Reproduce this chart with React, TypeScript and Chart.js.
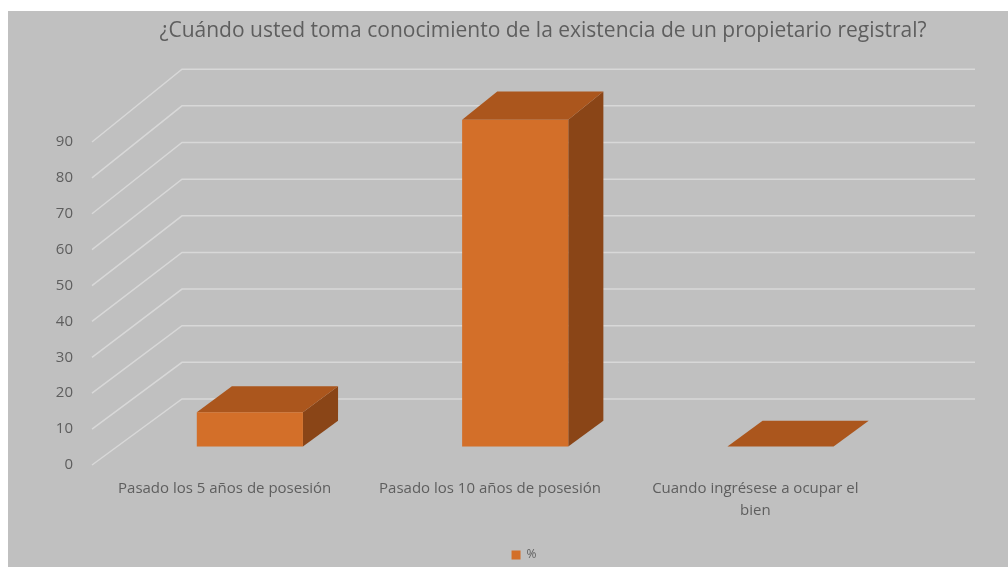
import React, { useEffect, useRef } from 'react';
import { Chart, registerables } from 'chart.js';

Chart.register(...registerables);

const titleText = '¿Cuándo usted toma conocimiento de la existencia de un propietario registral?';
const categories = [
  ['Pasado los 5 años de posesión'],
  ['Pasado los 10 años de posesión'],
  ['Cuando ingrésese a ocupar el', 'bien'],
];
const seriesLabel = '%';
const values = [9.5, 90.5, 0];
const yTickValues = [0, 10, 20, 30, 40, 50, 60, 70, 80, 90];

const BG = '#c0c0c0';
const GRID = '#d8d8d8';
const TEXT = '#5e5e5e';
const FRONT = '#d36f29';
const TOP = '#ab561d';
const SIDE = '#8a4517';

const DX = 90;
const DY = 66;
const PERSP = 0.021;
const D_FRONT = 0.28;
const D_BACK = 0.67;

const TITLE_CX = 535;
const LEGEND_CX = 516;
const LEGEND_DY = 4;

const proj = (y: any, v: number, d: number) => {
  const p0 = y.getPixelForValue(0);
  const pv = y.getPixelForValue(v);
  return p0 - d * DY + (pv - p0) * (1 + PERSP * d);
};

const bgPlugin = {
  id: 'bg',
  beforeDraw(chart: any) {
    const { ctx, width, height } = chart;
    ctx.save();
    ctx.fillStyle = BG;
    ctx.fillRect(0, 0, width, height);
    ctx.restore();
  },
};

const shiftPlugin = {
  id: 'shiftBoxes',
  afterLayout(chart: any) {
    const shift = (box: any, cx: number) => {
      if (!box) return;
      const dx = cx - (box.left + box.right) / 2;
      box.left += dx;
      box.right += dx;
    };
    shift(chart.titleBlock, TITLE_CX);
    shift(chart.legend, LEGEND_CX);
    if (chart.legend) {
      chart.legend.top += LEGEND_DY;
      chart.legend.bottom += LEGEND_DY;
    }
  },
};

const threeD = {
  id: 'threeD',
  beforeDatasetsDraw(chart: any) {
    const { ctx, chartArea } = chart;
    const y = chart.scales.y;
    ctx.save();
    ctx.strokeStyle = GRID;
    ctx.lineWidth = 1.5;
    y.ticks.forEach((t: any) => {
      const v = t.value;
      ctx.beginPath();
      ctx.moveTo(chartArea.left, proj(y, v, 0));
      ctx.lineTo(chartArea.left + DX, proj(y, v, 1));
      ctx.lineTo(chartArea.right + DX - 3, proj(y, v, 1));
      ctx.stroke();
    });
    const meta = chart.getDatasetMeta(0);
    const data = chart.data.datasets[0].data;
    meta.data.forEach((bar: any, i: number) => {
      const { x, width } = bar.getProps(['x', 'width'], true);
      const v = data[i] as number;
      const xl = x - width / 2 + D_FRONT * DX;
      const xr = xl + width;
      const ddx = (D_BACK - D_FRONT) * DX;
      const yTf = proj(y, v, D_FRONT);
      const yBf = proj(y, 0, D_FRONT);
      const yTb = proj(y, v, D_BACK);
      const yBb = proj(y, 0, D_BACK);
      ctx.fillStyle = SIDE;
      ctx.beginPath();
      ctx.moveTo(xr, yTf);
      ctx.lineTo(xr + ddx, yTb);
      ctx.lineTo(xr + ddx, yBb);
      ctx.lineTo(xr, yBf);
      ctx.closePath();
      ctx.fill();
      ctx.fillStyle = TOP;
      ctx.beginPath();
      ctx.moveTo(xl, yTf);
      ctx.lineTo(xr, yTf);
      ctx.lineTo(xr + ddx, yTb);
      ctx.lineTo(xl + ddx, yTb);
      ctx.closePath();
      ctx.fill();
      if (yBf - yTf > 0.5) {
        ctx.fillStyle = FRONT;
        ctx.fillRect(xl, yTf, width, yBf - yTf);
      }
    });
    ctx.restore();
    return false;
  },
};

export default function App() {
  const ref = useRef<HTMLCanvasElement | null>(null);
  useEffect(() => {
    if (!ref.current) return;
    const font = "'Open Sans', sans-serif";
    const PAD_L = 40;
    const chart = new Chart(ref.current, {
      type: 'bar',
      data: {
        labels: categories as any,
        datasets: [
          {
            label: seriesLabel,
            data: values,
            backgroundColor: FRONT,
            borderWidth: 0,
            barPercentage: 0.8,
            categoryPercentage: 0.5,
          },
        ],
      },
      options: {
        animation: false,
        responsive: true,
        maintainAspectRatio: false,
        layout: { padding: { left: PAD_L, right: 0, top: 0, bottom: 0 } },
        plugins: {
          title: {
            display: true,
            text: titleText,
            color: TEXT,
            font: { family: font, size: 21, weight: 'normal' },
            padding: { top: 7, bottom: 98.8 },
          },
          legend: {
            display: true,
            position: 'bottom',
            labels: {
              color: TEXT,
              boxWidth: 9,
              boxHeight: 9,
              padding: 3,
              font: { family: font, size: 12 },
            },
          },
          tooltip: { enabled: false },
        },
        scales: {
          x: {
            grid: { display: false, drawTicks: false, tickLength: 0 },
            border: { display: false },
            ticks: {
              color: TEXT,
              font: { family: font, size: 15, lineHeight: 1.45 },
              padding: 13,
              maxRotation: 0,
              autoSkip: false,
            },
            afterFit(scale: any) {
              scale.height = 77;
            },
          },
          y: {
            min: 0,
            max: 90,
            grid: { display: false, drawTicks: false, tickLength: 0 },
            border: { display: false },
            ticks: {
              color: TEXT,
              font: { family: font, size: 15 },
              padding: 19,
            },
            afterBuildTicks(scale: any) {
              scale.ticks = yTickValues.map((v) => ({ value: v }));
            },
            afterFit(scale: any) {
              scale.width = 84 - PAD_L;
            },
          },
          yRight: {
            position: 'right',
            display: true,
            min: 0,
            max: 90,
            grid: { display: false, drawTicks: false },
            border: { display: false },
            ticks: { display: false },
            afterFit(scale: any) {
              scale.width = 120;
            },
          },
        },
      },
      plugins: [bgPlugin, shiftPlugin, threeD],
    });
    return () => chart.destroy();
  }, []);
  return (
    <div style={{ position: 'absolute', left: 8, top: 11, width: 1000, height: 556 }}>
      <canvas ref={ref} />
    </div>
  );
}
